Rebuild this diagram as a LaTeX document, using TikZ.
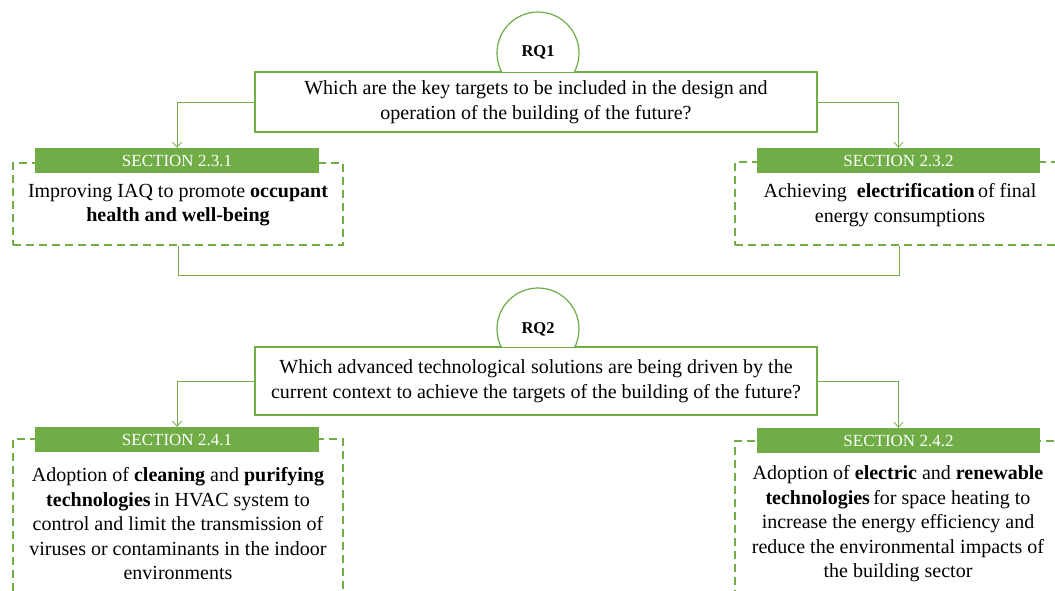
\documentclass[tikz,border=0pt]{standalone}
\usepackage{fontspec}
\setmainfont{Liberation Serif}
\usetikzlibrary{arrows.meta,intersections,calc}
\definecolor{gr}{HTML}{70AD47}
\begin{document}
\begin{tikzpicture}[x=1pt,y=-1pt,
  qbox/.style={draw=gr, line width=1.2pt, fill=white, minimum width=562pt, align=center, font=\fontsize{20}{24.8}\selectfont, inner sep=0pt},
  rqc/.style={circle, draw=gr, line width=1.2pt, fill=white, minimum size=82pt, inner sep=0pt},
  rqt/.style={font=\fontsize{16.5}{18}\selectfont\bfseries, inner sep=0pt},
  hdr/.style={fill=gr, text=white, minimum width=284pt, minimum height=25pt, inner sep=0pt, font=\fontsize{17}{18}\selectfont},
  dbox/.style={draw=gr, line width=1.8pt, dash pattern=on 8pt off 5pt},
  btxt/.style={align=center, font=\fontsize{20}{24.5}\selectfont, inner sep=0pt},
  conn/.style={draw=gr, line width=0.8pt},
  arr/.style={conn, -{Straight Barb[length=5pt,width=9pt]}}]
\useasboundingbox (0,0) rectangle (1055,590);
\clip (0,0) rectangle (1055,590);
\fill[white] (0,0) rectangle (1055,590);

% RQ1
\node[rqc] (c1) at (538,53) {};
\node[qbox, minimum height=60pt] (q1) at (536,102) {Which are the key targets to be included in the design and\\operation of the building of the future?};
\path[name path=circ1] (c1.center) circle[radius=41];
\path[name path=top1] (q1.north west) -- (q1.north east);
\draw[white, line width=2pt, shorten >=0.8pt, shorten <=0.8pt, name intersections={of=circ1 and top1}] (intersection-1) -- (intersection-2);
\node[rqt] (r1) at (538,52) {RQ1};

% Section 2.3.x
\node[dbox, minimum width=330pt, minimum height=82pt] (d231) at (178,204) {};
\node[dbox, minimum width=335pt, minimum height=83pt] (d232) at (902.5,203.5) {};
\node[hdr] (h231) at (177,160.5) {SECTION 2.3.1};
\node[hdr, minimum width=283pt] (h232) at (898.5,160.5) {SECTION 2.3.2};
\node[btxt] (t231) at (178,205) {Improving IAQ to promote \textbf{occupant}\\\textbf{health and well-being}};
\node[btxt] (t232) at (900,205) {Achieving \ \textbf{electrification}\,of final\\energy consumptions};

\draw[arr] (q1.west) -| (h231.north);
\draw[arr] (q1.east) -| (h232.north);

\coordinate (j1) at (178,275);
\coordinate (j2) at (899,275);
\draw[conn] (d231.south) -- (j1) -- (j2) -- (j2 |- d232.south);

% RQ2
\node[rqc] (c2) at (538,329) {};
\node[qbox, minimum height=68pt] (q2) at (536,381) {Which advanced technological solutions are being driven by the\\current context to achieve the targets of the building of the future?};
\path[name path=circ2] (c2.center) circle[radius=41];
\path[name path=top2] (q2.north west) -- (q2.north east);
\draw[white, line width=2pt, shorten >=0.8pt, shorten <=0.8pt, name intersections={of=circ2 and top2}] (intersection-1) -- (intersection-2);
\node[rqt] (r2) at (538,329) {RQ2};

% Section 2.4.x
\node[dbox, minimum width=330pt, minimum height=171pt] (d241) at (178,524.5) {};
\node[dbox, minimum width=335pt, minimum height=169pt] (d242) at (902.5,525.5) {};
\node[hdr] (h241) at (177,439.5) {SECTION 2.4.1};
\node[hdr, minimum width=283pt] (h242) at (898.5,440.5) {SECTION 2.4.2};
\node[btxt] (t241) at (178,524) {Adoption of \textbf{cleaning} and \textbf{purifying}\\\textbf{technologies}\,in HVAC system to\\control and limit the transmission of\\viruses or contaminants in the indoor\\environments};
\node[btxt] (t242) at (898,524) {Adoption of \textbf{electric} and \textbf{renewable}\\\textbf{technologies}\,for space heating to\\increase the energy efficiency and\\reduce the environmental impacts of\\the building sector};

\draw[arr] (q2.west) -| (h241.north);
\draw[arr] (q2.east) -| (h242.north);
\end{tikzpicture}
\end{document}
